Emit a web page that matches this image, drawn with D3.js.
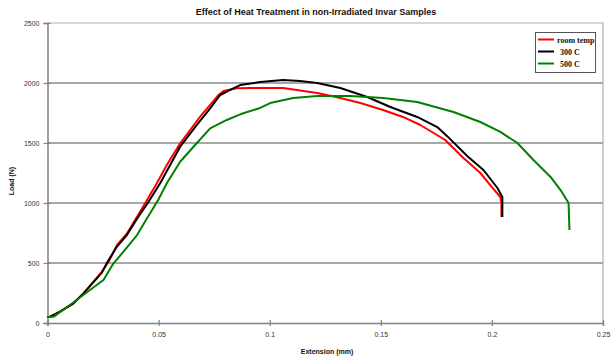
<!DOCTYPE html>
<html>
<head>
<meta charset="utf-8">
<script src="https://cdn.jsdelivr.net/npm/d3@7"></script>
<style>
body{margin:0;background:#fff;}
svg{display:block;font-family:"Liberation Sans",Arial,sans-serif;}
</style>
</head>
<body>
<svg width="616" height="362"></svg>
<script>
var width = 616, height = 362;
var marge = {top:23, bottom:39, left:47.5, right:13};

// 数据：伸长量(mm) 与 载荷(N)
var roomTemp = [
  [0,50],[0.001,50],[0.0056,94],[0.0117,164],[0.0162,247],[0.0207,344],[0.0245,428],
  [0.0275,511],[0.0313,650],[0.0358,747],[0.0403,886],[0.0448,1025],[0.0492,1164],
  [0.0537,1317],[0.0597,1497],[0.0642,1608],[0.0687,1719],[0.0732,1817],[0.077,1900],
  [0.0792,1933],[0.0852,1956],[0.0912,1958],[0.106,1958],[0.1214,1917],[0.1318,1875],
  [0.1408,1833],[0.151,1775],[0.16,1717],[0.1678,1650],[0.179,1525],[0.1867,1383],
  [0.1948,1250],[0.2,1133],[0.2038,1050],[0.2043,1000],[0.2043,883]
];
var temp300 = [
  [0,50],[0.001,50],[0.0056,94],[0.0117,164],[0.0162,247],[0.0207,340],[0.0245,420],
  [0.0267,500],[0.031,630],[0.0358,735],[0.0403,870],[0.0455,1010],[0.0507,1164],
  [0.0597,1469],[0.0672,1650],[0.0732,1789],[0.0777,1900],[0.0822,1942],[0.0867,1983],
  [0.0957,2008],[0.106,2025],[0.1137,2017],[0.1214,2000],[0.1318,1958],[0.1439,1883],
  [0.1543,1800],[0.1664,1717],[0.1754,1633],[0.18,1555],[0.189,1390],[0.1962,1275],
  [0.2025,1125],[0.2047,1050],[0.2047,883]
];
var temp500 = [
  [0,50],[0.003,55],[0.0101,150],[0.0191,275],[0.0252,358],[0.0297,497],[0.0342,594],
  [0.0403,733],[0.0448,872],[0.0498,1025],[0.0537,1164],[0.0597,1344],[0.0657,1469],
  [0.0732,1622],[0.0807,1692],[0.0867,1739],[0.0957,1792],[0.1002,1833],[0.1106,1875],
  [0.1214,1892],[0.1363,1892],[0.1511,1875],[0.1664,1842],[0.1827,1758],[0.1948,1675],
  [0.2038,1592],[0.2115,1500],[0.2187,1358],[0.2264,1217],[0.2309,1108],[0.2345,1000],
  [0.2349,775]
];
var seriesNames = ["room temp","300 C","500 C"];
var seriesColors = ["#ff0000","#000000","#008000"];
var xTicks = [0,0.05,0.1,0.15,0.2,0.25];
var yTicks = [0,500,1000,1500,2000,2500];

var allData = [roomTemp, temp300, temp500];

var svg = d3.select("svg");
var x = d3.scaleLinear().domain([0,0.25]).range([marge.left, width-marge.right]);
var y = d3.scaleLinear().domain([0,2500]).range([height-marge.bottom, marge.top]);

// 标题
svg.append("text")
   .attr("x",316).attr("y",15)
   .attr("text-anchor","middle")
   .attr("font-size","9px").attr("font-weight","bold")
   .attr("fill","#111")
   .text("Effect of Heat Treatment in non-Irradiated Invar Samples");

// 网格线
svg.append("g").selectAll("line")
   .data(yTicks.filter(function(d){return d>0 && d<2500;}))
   .enter().append("line")
   .attr("x1",x(0)).attr("x2",x(0.25))
   .attr("y1",function(d){return y(d);}).attr("y2",function(d){return y(d);})
   .attr("stroke","#8a8a8a").attr("stroke-width",1.5);

// 外框（上、右）
svg.append("path")
   .attr("d","M"+x(0)+","+y(2500)+"H"+x(0.25)+"V"+y(0))
   .attr("fill","none").attr("stroke","#b0b0b0").attr("stroke-width",1.2);

// 坐标轴
var yAxis = d3.axisLeft(y).tickValues(yTicks).tickSize(4).tickPadding(4).tickFormat(d3.format("d"));
var xAxis = d3.axisBottom(x).tickValues(xTicks).tickSize(3).tickPadding(6)
   .tickFormat(function(d){return d===0?"0":String(d);});

var gy = svg.append("g").attr("transform","translate("+x(0)+",0)").call(yAxis);
var gx = svg.append("g").attr("transform","translate(0,"+y(0)+")").call(xAxis);
[gx,gy].forEach(function(g){
  g.select(".domain").attr("stroke","#808080").attr("stroke-width",1.5);
  g.selectAll(".tick line").attr("stroke","#808080").attr("stroke-width",1.2);
  g.selectAll(".tick text").attr("font-size","7px").attr("fill","#333")
   .attr("font-family","'Liberation Sans',Arial,sans-serif");
});
gx.selectAll(".tick line").attr("y1",-3).attr("y2",3);
gy.selectAll(".tick line").attr("x1",3);

// 坐标轴标题
svg.append("text")
   .attr("x",327).attr("y",354)
   .attr("text-anchor","middle")
   .attr("font-size","7px").attr("font-weight","bold").attr("fill","#111")
   .text("Extension (mm)");
svg.append("text")
   .attr("transform","translate(14,181) rotate(-90)")
   .attr("text-anchor","middle")
   .attr("font-size","7px").attr("font-weight","bold").attr("fill","#111")
   .text("Load (N)");

// 曲线
var line = d3.line()
   .x(function(d){return x(d[0]);})
   .y(function(d){return y(d[1]);});

svg.append("g").selectAll("path")
   .data(allData)
   .enter().append("path")
   .attr("d",line)
   .attr("fill","none")
   .attr("stroke",function(d,i){return seriesColors[i];})
   .attr("stroke-width",2)
   .attr("stroke-linejoin","round");

// 图例
var legend = svg.append("g");
legend.append("rect")
   .attr("x",535.5).attr("y",32.5).attr("width",60).attr("height",40)
   .attr("fill","#fff").attr("stroke","#555").attr("stroke-width",1);
var items = legend.selectAll("g.item")
   .data(seriesNames)
   .enter().append("g").attr("class","item")
   .attr("transform",function(d,i){return "translate(0,"+(39.5+i*12)+")";});
items.append("line")
   .attr("x1",538).attr("x2",554).attr("y1",0).attr("y2",0)
   .attr("stroke",function(d,i){return seriesColors[i];})
   .attr("stroke-width",2);
items.append("text")
   .attr("x",function(d,i){return i===0?557:560;}).attr("y",3)
   .attr("font-family","'Liberation Serif','Times New Roman',serif")
   .attr("font-size","8px").attr("font-weight","bold").attr("fill","#111")
   .text(function(d){return d;});
</script>
</body>
</html>
